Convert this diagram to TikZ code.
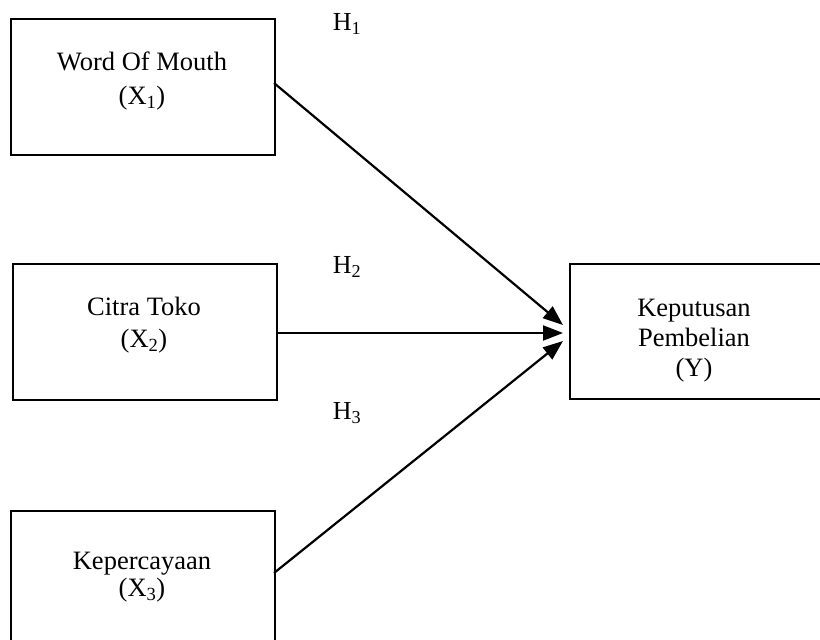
\documentclass[tikz,border=0pt]{standalone}
\usepackage{fontspec}
\setmainfont{Liberation Serif}
\usetikzlibrary{arrows.meta}
\begin{document}
\begin{tikzpicture}[x=1pt,y=-1pt,
  box/.style={draw=black,line width=2.2pt,rectangle,inner sep=0pt,anchor=north west},
  lbl/.style={align=center,font=\fontsize{26.5}{30}\selectfont},
  hyp/.style={font=\fontsize{26}{30}\selectfont},
  arr/.style={line width=2.2pt,-{Triangle[length=20pt,width=15pt]}}]
\useasboundingbox (0,0) rectangle (820,640);
\clip (0,0) rectangle (820,640);
\node[box,minimum width=264pt,minimum height=136pt] (b1) at (10,18) {};
\node[box,minimum width=264pt,minimum height=136pt] (b2) at (12,263) {};
\node[box,minimum width=264pt,minimum height=145pt] (b3) at (10,510) {};
\node[box,minimum width=270pt,minimum height=135pt] (by) at (569,263) {};
\node[lbl,font=\fontsize{26.5}{34}\selectfont] (t1) at (142,81) {Word Of Mouth\\(X\textsubscript{1})};
\node[lbl,font=\fontsize{26.5}{32}\selectfont] (t2) at (144,325) {Citra Toko\\(X\textsubscript{2})};
\node[lbl,font=\fontsize{26.5}{27}\selectfont] (t3) at (142,577) {Kepercayaan\\(X\textsubscript{3})};
\node[lbl] (ty) at (694,341) {Keputusan\\Pembelian\\(Y)};
\node[hyp] (h1) at (347,24) {H\textsubscript{1}};
\node[hyp] (h2) at (347,267) {H\textsubscript{2}};
\node[hyp] (h3) at (347,413) {H\textsubscript{3}};
\coordinate (s1) at (274,83);
\coordinate (s2) at (276,333);
\coordinate (s3) at (274,573);
\coordinate (e1) at (563,325);
\coordinate (e2) at (563,333);
\coordinate (e3) at (563,341);
\draw[arr] (s1) -- (e1);
\draw[arr] (s2) -- (e2);
\draw[arr] (s3) -- (e3);
\end{tikzpicture}
\end{document}
